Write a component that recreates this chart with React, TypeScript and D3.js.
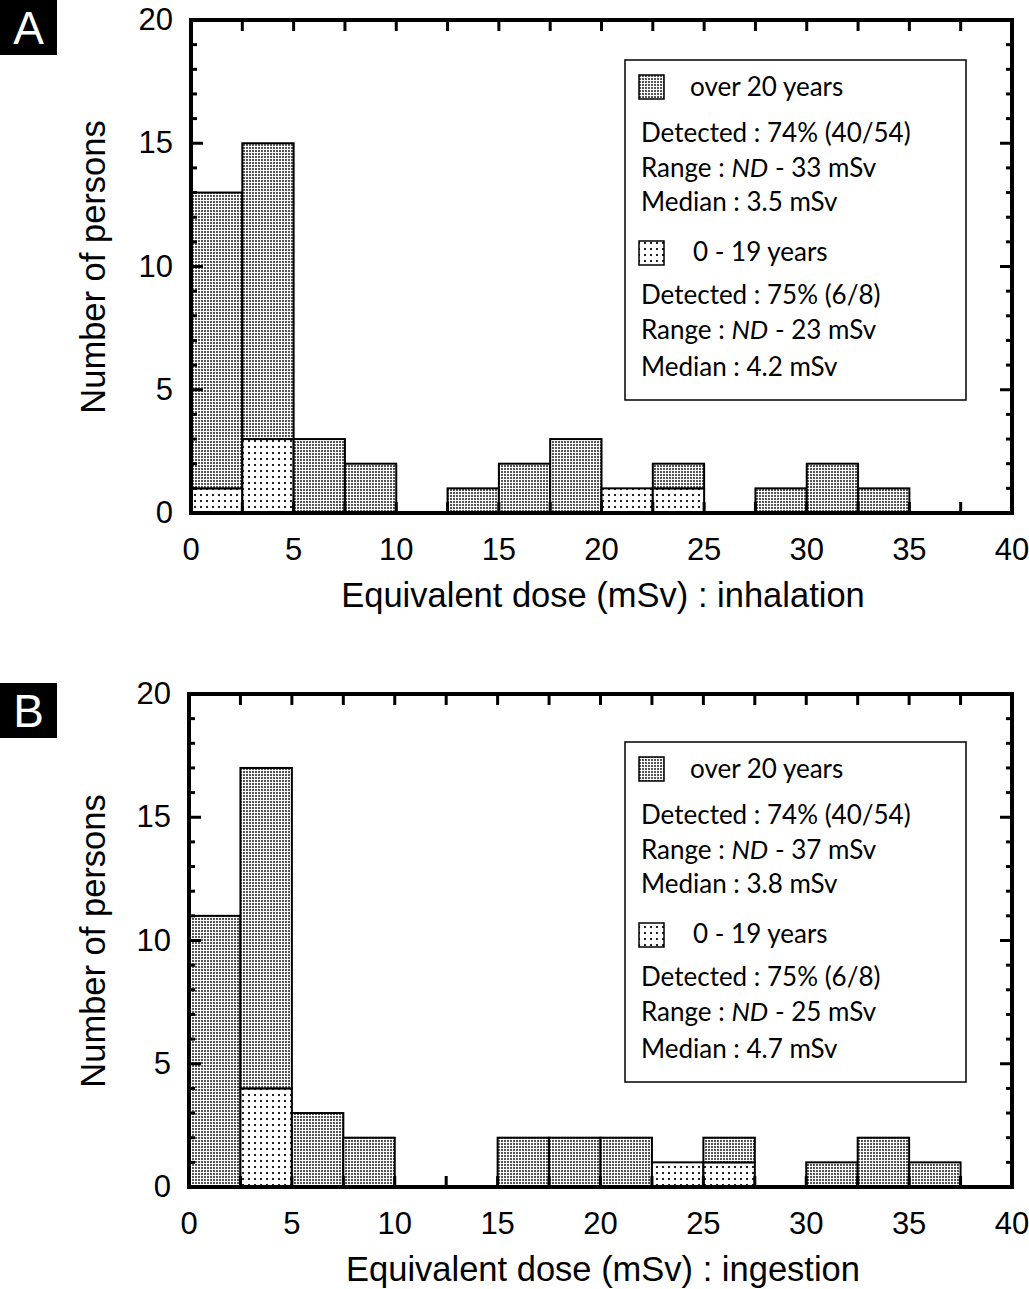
import React from "react";
import * as d3 from "d3";

const binStarts = [0, 2.5, 5, 7.5, 10, 12.5, 15, 17.5, 20, 22.5, 25, 27.5, 30, 32.5, 35, 37.5];
const binWidth = 2.5;
const aYoung = [1, 3, 0, 0, 0, 0, 0, 0, 1, 1, 0, 0, 0, 0, 0, 0];
const aAdult = [12, 12, 3, 2, 0, 1, 2, 3, 0, 1, 0, 1, 2, 1, 0, 0];
const bYoung = [0, 4, 0, 0, 0, 0, 0, 0, 0, 1, 1, 0, 0, 0, 0, 0];
const bAdult = [11, 13, 3, 2, 0, 0, 2, 2, 2, 0, 1, 0, 1, 2, 1, 0];
const xTickLabels = [0, 5, 10, 15, 20, 25, 30, 35, 40];
const yTickLabels = [0, 5, 10, 15, 20];
const legendA = {
  adult: ["Detected : 74% (40/54)", "33 mSv", "Median : 3.5 mSv"],
  young: ["Detected : 75% (6/8)", "23 mSv", "Median : 4.2 mSv"],
};
const legendB = {
  adult: ["Detected : 74% (40/54)", "37 mSv", "Median : 3.8 mSv"],
  young: ["Detected : 75% (6/8)", "25 mSv", "Median : 4.7 mSv"],
};

const AX = "Liberation Sans, Arial, sans-serif";
const LG = "Lato, Carlito, sans-serif";
const LFS = 26;

function Panel({ top, left, letter, letterTop, young, adult, title, legend, legendTop }) {
  const x = d3.scaleLinear().domain([0, 40]).range([left, 1012]);
  const y = d3.scaleLinear().domain([0, 20]).range([top + 493, top]);
  const minorX = d3.range(0, 40.01, 2.5);
  const minorY = d3.range(0, 20.01, 1);
  const lx = 625;
  const lw = 341;
  const lh = 340;
  const lt = legendTop;
  return (
    <g>
      <rect x={0} y={letterTop} width={57} height={55} fill="#000" />
      <text x={28.5} y={letterTop + 44} textAnchor="middle" fill="#fff" fontFamily={AX} fontSize={46}>
        {letter}
      </text>
      {binStarts.map((b, i) => {
        const x0 = x(b);
        const x1 = x(b + binWidth);
        const yv = young[i];
        const av = adult[i];
        return (
          <g key={i}>
            {yv > 0 && (
              <rect x={x0} y={y(yv)} width={x1 - x0} height={y(0) - y(yv)} fill="url(#pYoung)" stroke="#000" strokeWidth={2} />
            )}
            {av > 0 && (
              <rect x={x0} y={y(yv + av)} width={x1 - x0} height={y(yv) - y(yv + av)} fill="url(#pAdult)" stroke="#000" strokeWidth={2} />
            )}
          </g>
        );
      })}
      {minorX.map((v, i) => (
        <g key={"xt" + i}>
          <line x1={x(v)} x2={x(v)} y1={y(0)} y2={y(0) - 11} stroke="#000" strokeWidth={3} />
          <line x1={x(v)} x2={x(v)} y1={y(20)} y2={y(20) + 11} stroke="#000" strokeWidth={3} />
        </g>
      ))}
      {minorY.map((v, i) => {
        const len = v % 5 === 0 ? 12 : 6;
        return (
          <g key={"yt" + i}>
            <line x1={left} x2={left + len} y1={y(v)} y2={y(v)} stroke="#000" strokeWidth={3} />
            <line x1={1012} x2={1012 - len} y1={y(v)} y2={y(v)} stroke="#000" strokeWidth={3} />
          </g>
        );
      })}
      <rect x={left} y={top} width={1012 - left} height={493} fill="none" stroke="#000" strokeWidth={4} />
      {xTickLabels.map((v) => (
        <text key={"xl" + v} x={x(v)} y={y(0) + 47} textAnchor="middle" fontFamily={AX} fontSize={31} fill="#000">
          {v}
        </text>
      ))}
      {yTickLabels.map((v) => (
        <text key={"yl" + v} x={left - 18} y={y(v) + 10} textAnchor="end" fontFamily={AX} fontSize={31} fill="#000">
          {v}
        </text>
      ))}
      <text x={603} y={y(0) + 94} textAnchor="middle" fontFamily={AX} fontSize={34.5} fill="#000">
        {title}
      </text>
      <text transform={`translate(105,${top + 247}) rotate(-90)`} textAnchor="middle" fontFamily={AX} fontSize={34.5} fill="#000">
        Number of persons
      </text>
      <rect x={lx} y={lt} width={lw} height={lh} fill="#fff" stroke="#000" strokeWidth={1.5} />
      <rect x={lx + 14} y={lt + 15} width={25} height={24} fill="url(#pAdult)" stroke="#000" strokeWidth={1.5} />
      <text x={lx + 65} y={lt + 36} fontFamily={LG} fontSize={LFS} fill="#000">over 20 years</text>
      <text x={lx + 16} y={lt + 82} fontFamily={LG} fontSize={LFS} fill="#000">{legend.adult[0]}</text>
      <text x={lx + 16} y={lt + 117} fontFamily={LG} fontSize={LFS} fill="#000">
        Range : <tspan fontStyle="italic">ND</tspan> - {legend.adult[1]}
      </text>
      <text x={lx + 16} y={lt + 151} fontFamily={LG} fontSize={LFS} fill="#000">{legend.adult[2]}</text>
      <rect x={lx + 14} y={lt + 181} width={25} height={24} fill="url(#pYoung)" stroke="#000" strokeWidth={1.5} />
      <text x={lx + 68} y={lt + 201} fontFamily={LG} fontSize={LFS} fill="#000">0 - 19 years</text>
      <text x={lx + 16} y={lt + 244} fontFamily={LG} fontSize={LFS} fill="#000">{legend.young[0]}</text>
      <text x={lx + 16} y={lt + 279} fontFamily={LG} fontSize={LFS} fill="#000">
        Range : <tspan fontStyle="italic">ND</tspan> - {legend.young[1]}
      </text>
      <text x={lx + 16} y={lt + 316} fontFamily={LG} fontSize={LFS} fill="#000">{legend.young[2]}</text>
    </g>
  );
}

export default function App() {
  return (
    <svg width={1029} height={1289} style={{ position: "absolute", left: 0, top: 0, background: "#fff" }}>
      <defs>
        <pattern id="pAdult" width={3} height={3} patternUnits="userSpaceOnUse">
          <rect width={3} height={3} fill="#fff" />
          <rect x={0} y={0} width={2} height={2} fill="#555" />
        </pattern>
        <pattern id="pYoung" width={6} height={6} patternUnits="userSpaceOnUse">
          <rect width={6} height={6} fill="#fff" />
          <rect x={2} y={2} width={2} height={2} fill="#222" />
        </pattern>
      </defs>
      <rect width={1029} height={1289} fill="#fff" />
      <Panel top={20} left={191} letter="A" letterTop={0} young={aYoung} adult={aAdult}
        title="Equivalent dose (mSv) : inhalation" legend={legendA} legendTop={60} />
      <Panel top={694} left={189} letter="B" letterTop={683} young={bYoung} adult={bAdult}
        title="Equivalent dose (mSv) : ingestion" legend={legendB} legendTop={742} />
    </svg>
  );
}
